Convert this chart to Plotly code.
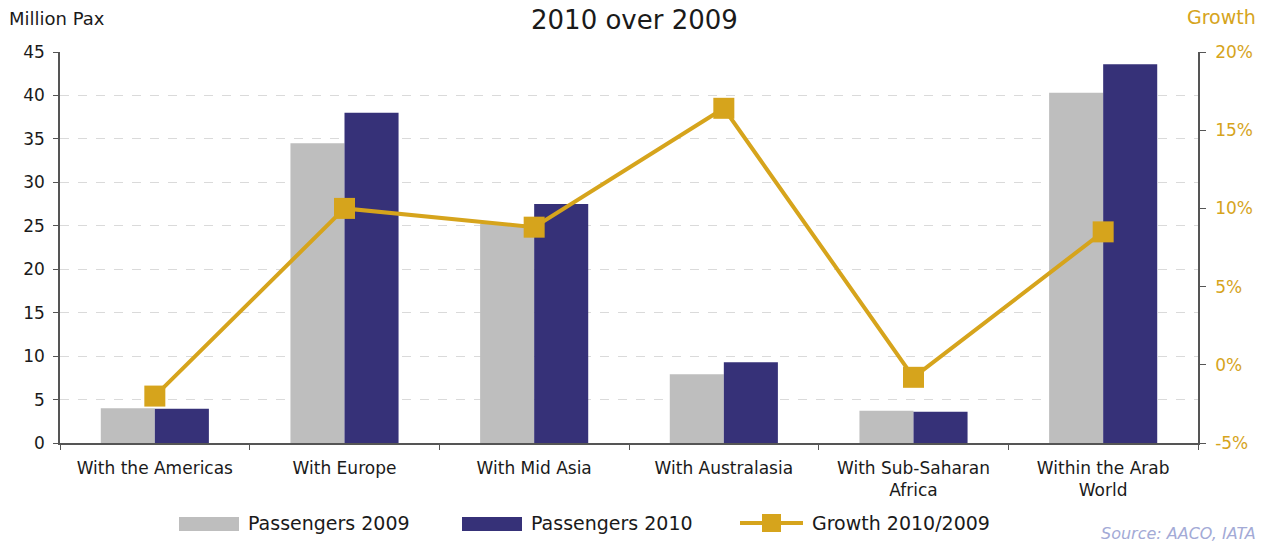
import plotly.graph_objects as go

categories = ["With the Americas", "With Europe", "With Mid Asia", "With Australasia",
              "With Sub-Saharan<br>Africa", "Within the Arab<br>World"]
pax_2009 = [4.0, 34.5, 25.2, 7.9, 3.7, 40.3]
pax_2010 = [3.95, 38.0, 27.5, 9.3, 3.6, 43.6]
growth = [-2.0, 10.0, 8.8, 16.4, -0.8, 8.5]

left_ticks = [0, 5, 10, 15, 20, 25, 30, 35, 40, 45]
right_ticks = [-5, 0, 5, 10, 15, 20]
right_labels = ["-5%", "0%", "5%", "10%", "15%", "20%"]
series_names = ["Passengers 2009", "Passengers 2010", "Growth 2010/2009"]

FONT = "DejaVu Sans"
GOLD = "#D6A41C"
NAVY = "#363178"
GRAY = "#BEBEBE"
INK = "#1a1a1a"
AX = "#555555"

fig = go.Figure()
fig.add_trace(go.Bar(x=categories, y=pax_2009, name=series_names[0],
                     marker=dict(color=GRAY, line=dict(width=0))))
fig.add_trace(go.Bar(x=categories, y=pax_2010, name=series_names[1],
                     marker=dict(color=NAVY, line=dict(width=0))))
fig.add_trace(go.Scatter(x=categories, y=growth, name=series_names[2], yaxis="y2",
                         mode="lines+markers",
                         line=dict(color=GOLD, width=4),
                         marker=dict(symbol="square", size=21, color=GOLD)))

fig.update_layout(
    width=1267, height=544,
    margin=dict(l=60, r=69, t=52, b=101),
    paper_bgcolor="white", plot_bgcolor="white",
    font=dict(family=FONT, size=16, color=INK),
    barmode="group", bargap=0.43, bargroupgap=0,
    showlegend=False,
    xaxis=dict(showline=True, linecolor=AX, linewidth=1.5,
               ticks="outside", tickson="boundaries", ticklen=5, tickcolor=AX,
               ticklabelstandoff=9,
               tickfont=dict(size=17, color=INK), showgrid=False, automargin=False),
    yaxis=dict(range=[0, 45], tickvals=left_ticks, showline=True, linecolor=AX,
               linewidth=1.5, ticks="outside", ticklen=5, tickcolor=AX,
               ticklabelstandoff=5,
               tickfont=dict(size=17, color=INK),
               showgrid=True, gridcolor="#DADADA", griddash="dash", gridwidth=1,
               zeroline=False, automargin=False),
    yaxis2=dict(range=[-5, 20], tickvals=right_ticks, ticktext=right_labels,
                overlaying="y", side="right", showline=True, linecolor=AX,
                linewidth=1.5, ticks="outside", ticklen=6, tickcolor=AX,
                ticklabelstandoff=6,
                tickfont=dict(size=17, color=GOLD), showgrid=False, zeroline=False,
                automargin=False),
)

def px_x(px):
    return (px - 60) / 1138.0

def px_y(py):
    return (443 - py) / 391.0

# Title and axis titles
fig.add_annotation(text="2010 over 2009", xref="paper", yref="paper", x=px_x(634), y=px_y(20),
                   xanchor="center", yanchor="middle", showarrow=False,
                   font=dict(size=26, color=INK, family=FONT))
fig.add_annotation(text="Million Pax", xref="paper", yref="paper", x=px_x(7), y=px_y(18),
                   xanchor="left", yanchor="middle", showarrow=False,
                   font=dict(size=18, color=INK, family=FONT))
fig.add_annotation(text="Growth", xref="paper", yref="paper", x=px_x(1258), y=px_y(17),
                   xanchor="right", yanchor="middle", showarrow=False,
                   font=dict(size=19, color=GOLD, family=FONT))
fig.add_annotation(text="<i>Source: AACO, IATA</i>", xref="paper", yref="paper",
                   x=px_x(1258), y=px_y(533), xanchor="right", yanchor="middle", showarrow=False,
                   font=dict(size=16, color="#A3AAD6", family=FONT))

# Custom legend (swatches + labels)
ly0, ly1 = px_y(531), px_y(517)
fig.add_shape(type="rect", xref="paper", yref="paper", x0=px_x(179), x1=px_x(239),
              y0=ly0, y1=ly1, fillcolor=GRAY, line=dict(width=0))
fig.add_shape(type="rect", xref="paper", yref="paper", x0=px_x(462), x1=px_x(522),
              y0=ly0, y1=ly1, fillcolor=NAVY, line=dict(width=0))
fig.add_shape(type="line", xref="paper", yref="paper", x0=px_x(740), x1=px_x(803),
              y0=px_y(523), y1=px_y(523), line=dict(color=GOLD, width=4))
fig.add_shape(type="rect", xref="paper", yref="paper", x0=px_x(762), x1=px_x(781),
              y0=px_y(532), y1=px_y(514), fillcolor=GOLD, line=dict(width=0))
for name, xpx in zip(series_names, [246, 529, 810]):
    fig.add_annotation(text=name, xref="paper", yref="paper", x=px_x(xpx), y=px_y(523),
                       xanchor="left", yanchor="middle", showarrow=False,
                       font=dict(size=19, color=INK, family=FONT))

fig.write_html("out.html")
